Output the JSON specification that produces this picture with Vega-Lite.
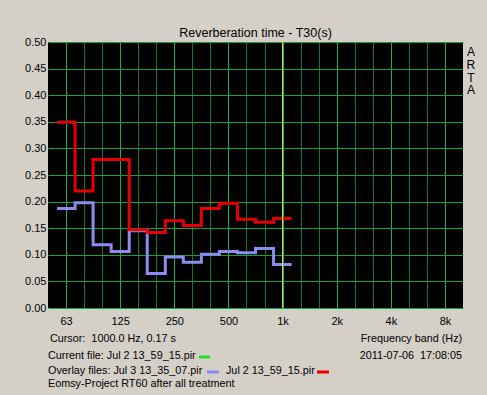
{
  "$schema": "https://vega.github.io/schema/vega-lite/v6.json",
  "width": 415,
  "height": 266,
  "autosize": {"type": "none"},
  "padding": {"left": 48, "top": 42, "right": 24, "bottom": 87},
  "background": "#D4D0C8",
  "title": {"text": "Reverberation time - T30(s)", "fontSize": 12.5, "fontWeight": "normal", "font": "Liberation Sans", "color": "black", "offset": -3, "anchor": "middle", "frame": "group"},
  "config": {
    "view": {"fill": "black", "stroke": null},
    "axis": {"labelFont": "Liberation Sans", "labelFontSize": 11, "labelColor": "black", "domain": false, "ticks": false, "title": null, "gridColor": "#12A040", "gridOpacity": 1, "labelOverlap": false},
    "text": {"font": "Liberation Sans", "fontSize": 10.8, "color": "black"}
  },
  "resolve": {"axis": {"x": "independent", "y": "independent"}},
  "datasets": {
    "t30": [
      {"band": "63", "lo": 56.2, "hi": 70.8, "file": "Jul 3 13_35_07.pir", "t30": 0.187},
      {"band": "80", "lo": 70.8, "hi": 89.1, "file": "Jul 3 13_35_07.pir", "t30": 0.198},
      {"band": "100", "lo": 89.1, "hi": 112.2, "file": "Jul 3 13_35_07.pir", "t30": 0.119},
      {"band": "125", "lo": 112.2, "hi": 141.3, "file": "Jul 3 13_35_07.pir", "t30": 0.106},
      {"band": "160", "lo": 141.3, "hi": 177.8, "file": "Jul 3 13_35_07.pir", "t30": 0.145},
      {"band": "200", "lo": 177.8, "hi": 223.9, "file": "Jul 3 13_35_07.pir", "t30": 0.065},
      {"band": "250", "lo": 223.9, "hi": 281.8, "file": "Jul 3 13_35_07.pir", "t30": 0.096},
      {"band": "315", "lo": 281.8, "hi": 354.8, "file": "Jul 3 13_35_07.pir", "t30": 0.086},
      {"band": "400", "lo": 354.8, "hi": 446.7, "file": "Jul 3 13_35_07.pir", "t30": 0.101},
      {"band": "500", "lo": 446.7, "hi": 562.3, "file": "Jul 3 13_35_07.pir", "t30": 0.106},
      {"band": "630", "lo": 562.3, "hi": 707.9, "file": "Jul 3 13_35_07.pir", "t30": 0.104},
      {"band": "800", "lo": 707.9, "hi": 891.3, "file": "Jul 3 13_35_07.pir", "t30": 0.112},
      {"band": "1k", "lo": 891.3, "hi": 1122, "file": "Jul 3 13_35_07.pir", "t30": 0.082},
      {"band": "63", "lo": 56.2, "hi": 70.8, "file": "Jul 2 13_59_15.pir", "t30": 0.349},
      {"band": "80", "lo": 70.8, "hi": 89.1, "file": "Jul 2 13_59_15.pir", "t30": 0.220},
      {"band": "100", "lo": 89.1, "hi": 112.2, "file": "Jul 2 13_59_15.pir", "t30": 0.279},
      {"band": "125", "lo": 112.2, "hi": 141.3, "file": "Jul 2 13_59_15.pir", "t30": 0.279},
      {"band": "160", "lo": 141.3, "hi": 177.8, "file": "Jul 2 13_59_15.pir", "t30": 0.147},
      {"band": "200", "lo": 177.8, "hi": 223.9, "file": "Jul 2 13_59_15.pir", "t30": 0.142},
      {"band": "250", "lo": 223.9, "hi": 281.8, "file": "Jul 2 13_59_15.pir", "t30": 0.164},
      {"band": "315", "lo": 281.8, "hi": 354.8, "file": "Jul 2 13_59_15.pir", "t30": 0.155},
      {"band": "400", "lo": 354.8, "hi": 446.7, "file": "Jul 2 13_59_15.pir", "t30": 0.187},
      {"band": "500", "lo": 446.7, "hi": 562.3, "file": "Jul 2 13_59_15.pir", "t30": 0.197},
      {"band": "630", "lo": 562.3, "hi": 707.9, "file": "Jul 2 13_59_15.pir", "t30": 0.167},
      {"band": "800", "lo": 707.9, "hi": 891.3, "file": "Jul 2 13_59_15.pir", "t30": 0.161},
      {"band": "1k", "lo": 891.3, "hi": 1122, "file": "Jul 2 13_59_15.pir", "t30": 0.168}
    ]
  },
  "layer": [
    {
      "data": {"name": "t30"},
      "transform": [{"fold": ["lo", "hi"], "as": ["edge", "f"]}],
      "mark": {"type": "line", "strokeWidth": 3, "strokeJoin": "miter", "strokeCap": "butt"},
      "encoding": {
        "x": {"field": "f", "type": "quantitative", "scale": {"type": "log", "domain": [50.12, 10000], "nice": false, "zero": false},
          "axis": {
            "values": [63.1, 79.4, 100, 125.9, 158.5, 199.5, 251.2, 316.2, 398.1, 501.2, 631, 794.3, 1000, 1258.9, 1584.9, 1995.3, 2511.9, 3162.3, 3981.1, 5011.9, 6309.6, 7943.3],
            "labelExpr": "datum.value == 63.1 ? '63' : datum.value == 125.9 ? '125' : datum.value == 251.2 ? '250' : datum.value == 501.2 ? '500' : datum.value == 1000 ? '1k' : datum.value == 1995.3 ? '2k' : datum.value == 3981.1 ? '4k' : datum.value == 7943.3 ? '8k' : ''",
            "labelPadding": 7,
            "labelFlush": false,
            "grid": true,
            "gridColor": {"condition": {"test": "indexof([63.1, 125.9, 251.2, 501.2, 1000, 1995.3, 3981.1, 7943.3], datum.value) >= 0", "value": "#14B444"}, "value": "#0E7A2C"}
          }
        },
        "y": {"field": "t30", "type": "quantitative", "scale": {"domain": [0, 0.5], "nice": false, "zero": true},
          "axis": {"values": [0, 0.05, 0.1, 0.15, 0.2, 0.25, 0.3, 0.35, 0.4, 0.45, 0.5], "format": ".2f", "labelPadding": 2, "grid": true, "gridColor": "#12A040", "labelFlush": false}
        },
        "color": {"field": "file", "type": "nominal", "scale": {"domain": ["Jul 3 13_35_07.pir", "Jul 2 13_59_15.pir"], "range": ["#8C8CF0", "#E80000"]}, "legend": null},
        "order": [{"field": "f", "type": "quantitative"}, {"field": "edge", "type": "nominal"}]
      }
    },
    {
      "data": {"values": [{}]},
      "mark": {"type": "rule", "color": "#E0E050", "strokeWidth": 1},
      "encoding": {"x": {"datum": 1000, "type": "quantitative", "axis": null}}
    },
    {
      "data": {"values": [{}]},
      "mark": {"type": "text", "text": ["A", "R", "T", "A"], "align": "center", "baseline": "top", "lineHeight": 12.7, "fontSize": 12},
      "encoding": {"x": {"datum": 11068, "type": "quantitative", "axis": null}, "y": {"datum": 0.49, "type": "quantitative", "axis": null}}
    },
    {
      "data": {"values": [{}]},
      "mark": {"type": "text", "text": "Cursor:\u00a0 1000.0 Hz, 0.17 s", "align": "left", "baseline": "middle"},
      "encoding": {"x": {"datum": 51.4, "type": "quantitative", "axis": null}, "y": {"datum": -0.0583, "type": "quantitative", "axis": null}}
    },
    {
      "data": {"values": [{}]},
      "mark": {"type": "text", "text": "Frequency band (Hz)", "align": "right", "baseline": "middle"},
      "encoding": {"x": {"datum": 9890, "type": "quantitative", "axis": null}, "y": {"datum": -0.0583, "type": "quantitative", "axis": null}}
    },
    {
      "data": {"values": [{}]},
      "mark": {"type": "text", "text": "Current file: Jul 2 13_59_15.pir", "align": "left", "baseline": "middle"},
      "encoding": {"x": {"datum": 50.12, "type": "quantitative", "axis": null}, "y": {"datum": -0.0902, "type": "quantitative", "axis": null}}
    },
    {
      "data": {"values": [{}]},
      "mark": {"type": "rule", "color": "#22DD22", "strokeWidth": 3},
      "encoding": {"x": {"datum": 344.2, "type": "quantitative", "axis": null}, "x2": {"datum": 396.1}, "y": {"datum": -0.0921, "type": "quantitative", "axis": null}}
    },
    {
      "data": {"values": [{}]},
      "mark": {"type": "text", "text": "2011-07-06\u00a0 17:08:05", "align": "right", "baseline": "middle"},
      "encoding": {"x": {"datum": 9890, "type": "quantitative", "axis": null}, "y": {"datum": -0.0902, "type": "quantitative", "axis": null}}
    },
    {
      "data": {"values": [{}]},
      "mark": {"type": "text", "text": "Overlay files: Jul 3 13_35_07.pir", "align": "left", "baseline": "middle"},
      "encoding": {"x": {"datum": 50.12, "type": "quantitative", "axis": null}, "y": {"datum": -0.1184, "type": "quantitative", "axis": null}}
    },
    {
      "data": {"values": [{}]},
      "mark": {"type": "rule", "color": "#8C8CF0", "strokeWidth": 3},
      "encoding": {"x": {"datum": 381.2, "type": "quantitative", "axis": null}, "x2": {"datum": 444.4}, "y": {"datum": -0.1203, "type": "quantitative", "axis": null}}
    },
    {
      "data": {"values": [{}]},
      "mark": {"type": "text", "text": "Jul 2 13_59_15.pir", "align": "left", "baseline": "middle"},
      "encoding": {"x": {"datum": 485.7, "type": "quantitative", "axis": null}, "y": {"datum": -0.1184, "type": "quantitative", "axis": null}}
    },
    {
      "data": {"values": [{}]},
      "mark": {"type": "rule", "color": "#E80000", "strokeWidth": 3},
      "encoding": {"x": {"datum": 1551.7, "type": "quantitative", "axis": null}, "x2": {"datum": 1808}, "y": {"datum": -0.1203, "type": "quantitative", "axis": null}}
    },
    {
      "data": {"values": [{}]},
      "mark": {"type": "text", "text": "Eomsy-Project RT60 after all treatment", "align": "left", "baseline": "middle"},
      "encoding": {"x": {"datum": 50.12, "type": "quantitative", "axis": null}, "y": {"datum": -0.1429, "type": "quantitative", "axis": null}}
    }
  ]
}
